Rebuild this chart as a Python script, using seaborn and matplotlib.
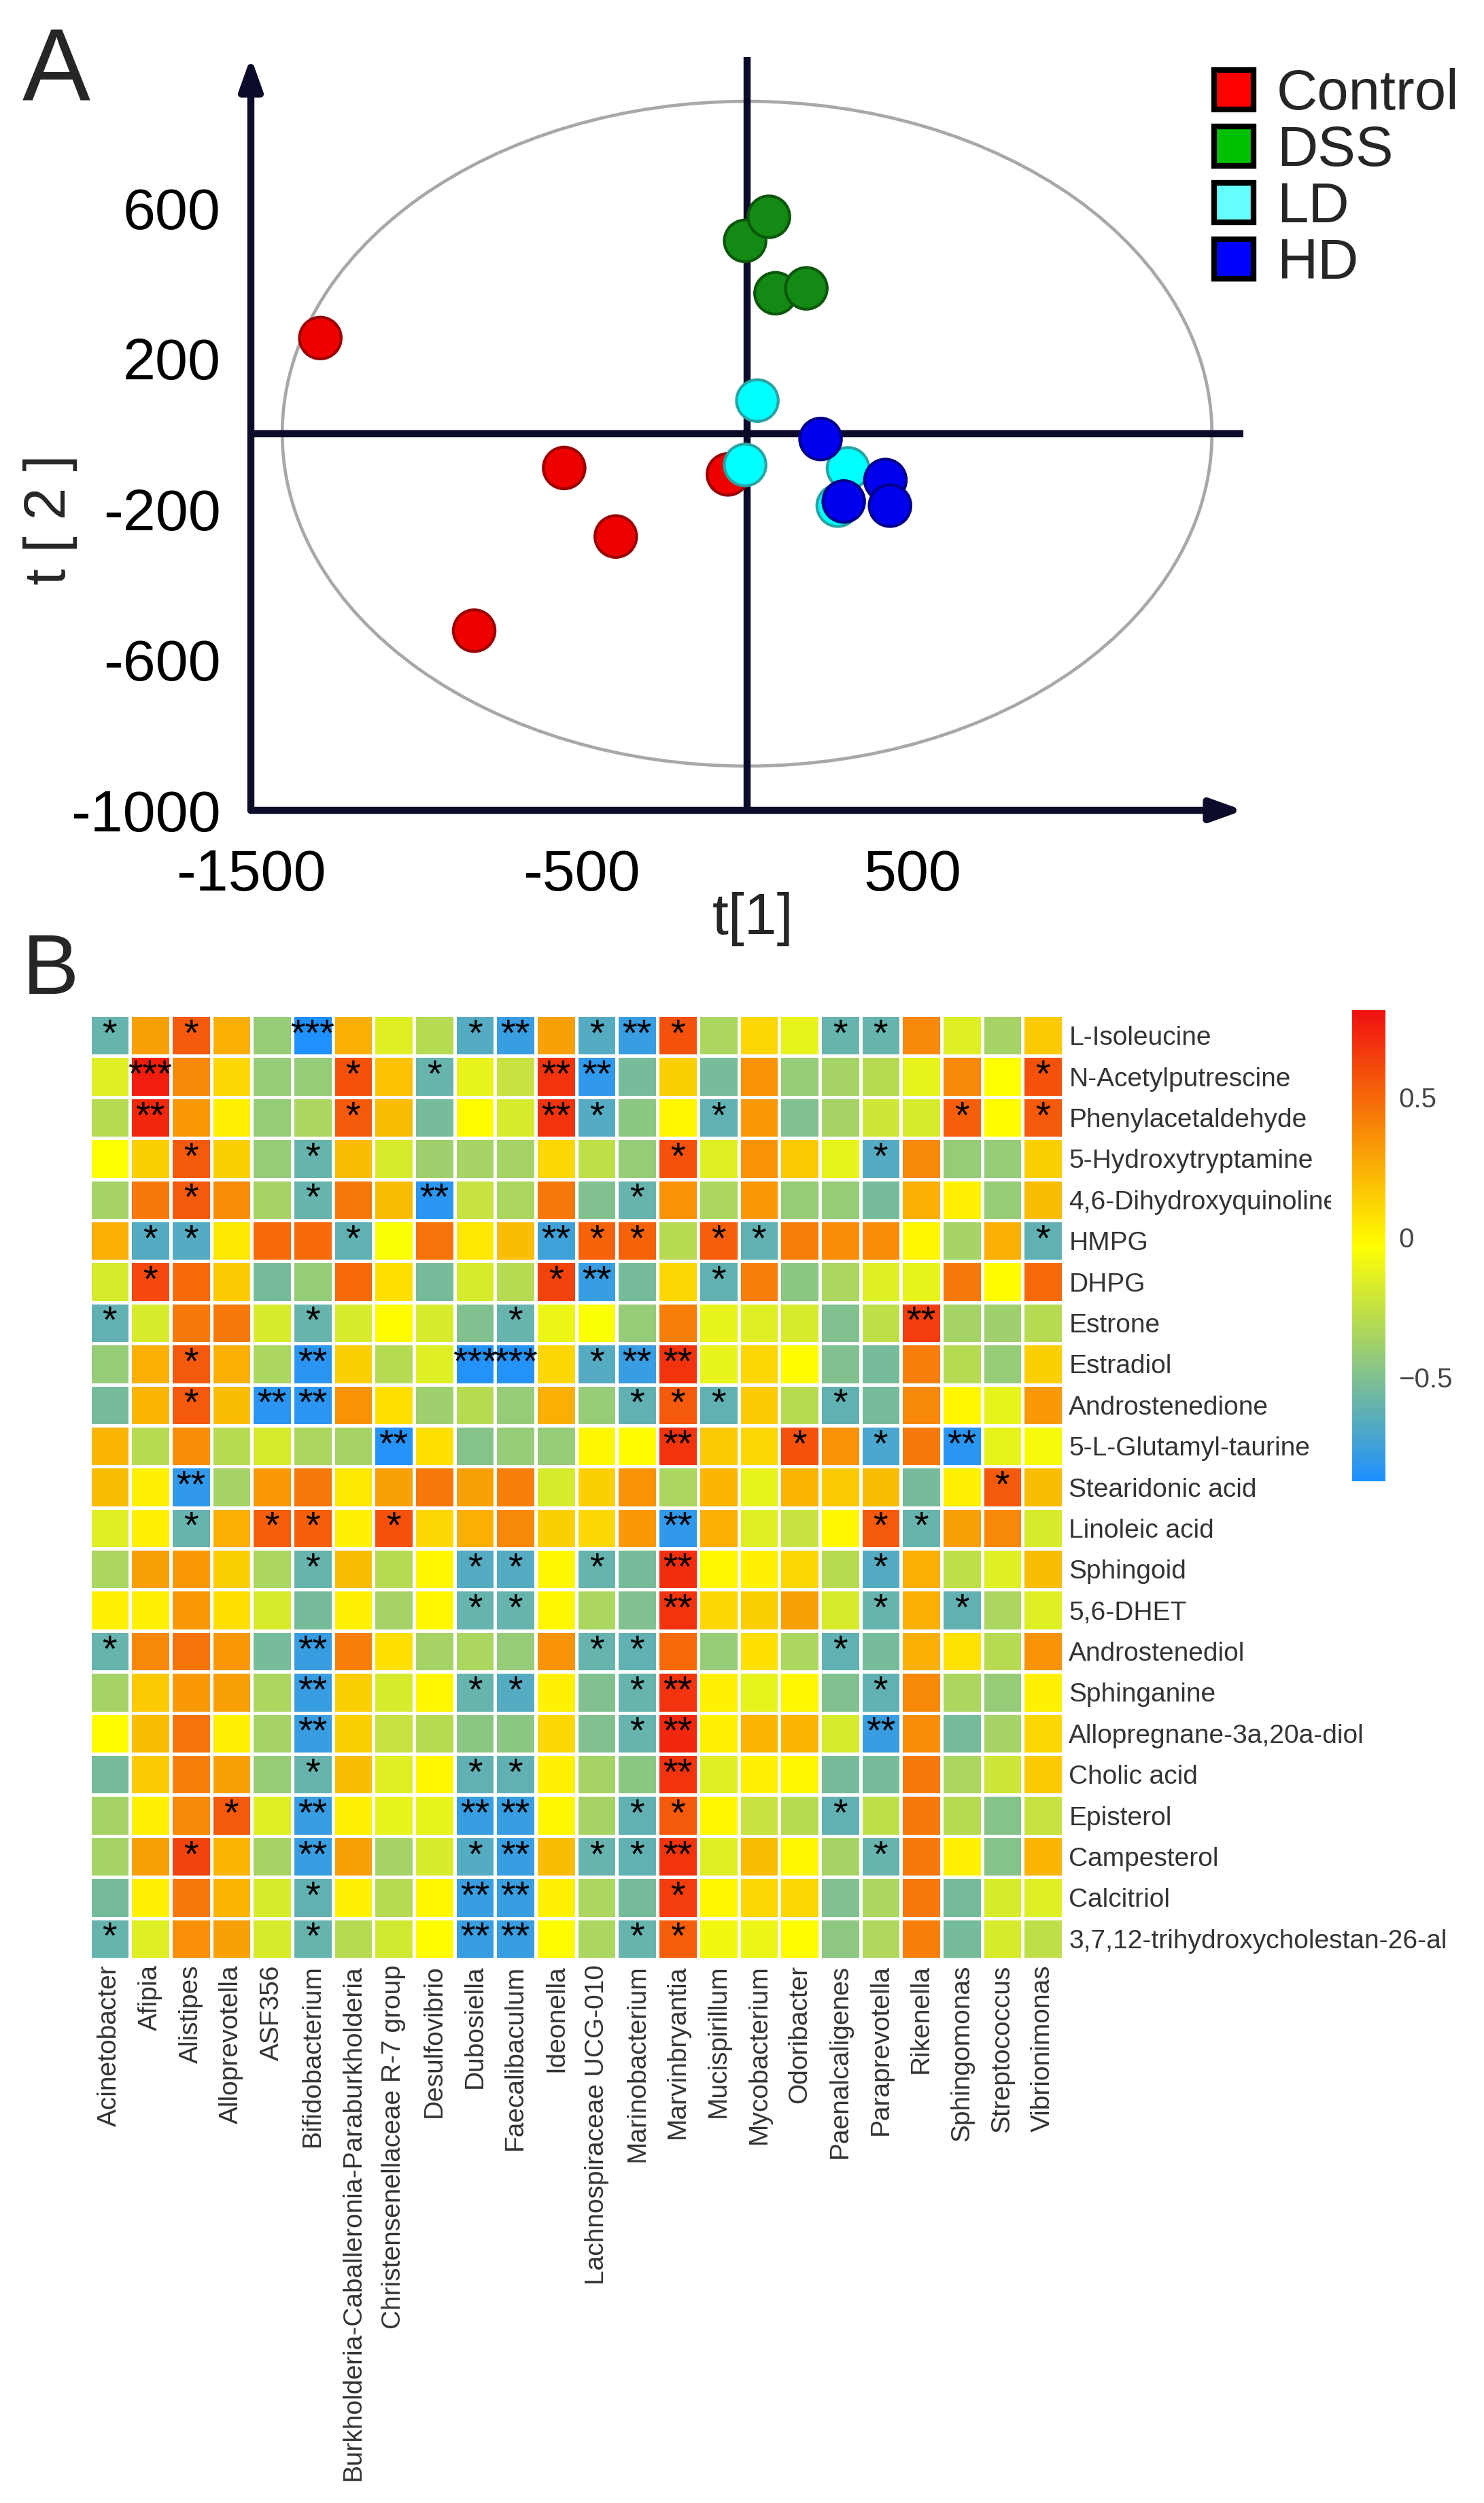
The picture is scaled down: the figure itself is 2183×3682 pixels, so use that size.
import numpy as np
import pandas as pd
import matplotlib
matplotlib.use("Agg")
import matplotlib.pyplot as plt
import seaborn as sns
from matplotlib.patches import Ellipse, Rectangle
from matplotlib.lines import Line2D
from matplotlib.colors import LinearSegmentedColormap

# ---------------- panel A : PCA scores ----------------
groups = ["Control", "DSS", "LD", "HD"]
control_t1 = [-1290, -553, -397, -825, -58]
control_t2 = [254, -91, -273, -523, -108]
dss_t1 = [-6, 66, 86, 179]
dss_t2 = [512, 576, 373, 386]
ld_t1 = [31, -6, 305, 274]
ld_t2 = [88, -83, -92, -191]
hd_t1 = [222, 292, 418, 432]
hd_t2 = [-14, -180, -123, -191]

fill_colors = ["#ee0000", "#138a13", "#00ffff", "#0000ee"]
edge_colors = ["#9a0000", "#0b560b", "#2aa3a3", "#00008a"]
legend_colors = ["#ff0000", "#00c000", "#66ffff", "#0000ff"]

# ---------------- panel B : correlation heatmap ----------------
metabolites = ["L-Isoleucine", "N-Acetylputrescine", "Phenylacetaldehyde",
               "5-Hydroxytryptamine", "4,6-Dihydroxyquinoline", "HMPG", "DHPG",
               "Estrone", "Estradiol", "Androstenedione", "5-L-Glutamyl-taurine",
               "Stearidonic acid", "Linoleic acid", "Sphingoid", "5,6-DHET",
               "Androstenediol", "Sphinganine", "Allopregnane-3a,20a-diol",
               "Cholic acid", "Episterol", "Campesterol", "Calcitriol",
               "3,7,12-trihydroxycholestan-26-al"]
genera = ["Acinetobacter", "Afipia", "Alistipes", "Alloprevotella", "ASF356",
          "Bifidobacterium", "Burkholderia-Caballeronia-Paraburkholderia",
          "Christensenellaceae R-7 group", "Desulfovibrio", "Dubosiella",
          "Faecalibaculum", "Ideonella", "Lachnospiraceae UCG-010",
          "Marinobacterium", "Marvinbryantia", "Mucispirillum", "Mycobacterium",
          "Odoribacter", "Paenalcaligenes", "Paraprevotella", "Rikenella",
          "Sphingomonas", "Streptococcus", "Vibrionimonas"]

corr_values = [
    [-0.6, 0.3, 0.55, 0.25, -0.42, -0.87, 0.25, -0.15, -0.3, -0.66, -0.77, 0.3, -0.66, -0.77, 0.58, -0.34, 0.11, -0.12, -0.6, -0.6, 0.39, -0.15, -0.36, 0.16],
    [-0.15, 0.76, 0.39, 0.11, -0.42, -0.42, 0.58, 0.18, -0.6, -0.12, -0.24, 0.68, -0.8, -0.54, 0.14, -0.54, 0.35, -0.42, -0.36, -0.3, -0.12, 0.39, -0.03, 0.58],
    [-0.3, 0.72, 0.33, 0.02, -0.42, -0.34, 0.55, 0.2, -0.54, -0.02, -0.18, 0.68, -0.66, -0.46, 0.0, -0.62, 0.33, -0.5, -0.36, -0.22, -0.18, 0.53, -0.02, 0.55],
    [-0.03, 0.14, 0.55, 0.14, -0.42, -0.6, 0.2, -0.18, -0.39, -0.36, -0.36, 0.11, -0.27, -0.42, 0.58, -0.15, 0.35, 0.16, -0.12, -0.66, 0.39, -0.42, -0.42, 0.14],
    [-0.36, 0.44, 0.55, 0.37, -0.36, -0.6, 0.44, 0.2, -0.82, -0.24, -0.34, 0.44, -0.5, -0.6, 0.35, -0.34, 0.33, -0.42, -0.42, -0.54, 0.25, 0.02, -0.42, 0.2],
    [0.25, -0.66, -0.66, 0.05, 0.49, 0.49, -0.62, -0.04, 0.46, 0.05, 0.2, -0.74, 0.52, 0.52, -0.3, 0.53, -0.62, 0.42, 0.37, 0.37, 0.0, -0.36, 0.25, -0.62],
    [-0.18, 0.61, 0.49, 0.16, -0.54, -0.42, 0.49, 0.08, -0.54, -0.18, -0.3, 0.63, -0.77, -0.54, 0.11, -0.62, 0.42, -0.46, -0.34, -0.15, -0.12, 0.44, -0.02, 0.49],
    [-0.62, -0.18, 0.44, 0.44, -0.18, -0.6, -0.18, -0.02, -0.18, -0.5, -0.6, -0.1, -0.04, -0.42, 0.42, -0.12, -0.15, -0.18, -0.5, -0.27, 0.65, -0.36, -0.39, -0.3],
    [-0.42, 0.25, 0.55, 0.25, -0.34, -0.82, 0.14, -0.3, -0.15, -0.85, -0.85, 0.11, -0.66, -0.77, 0.68, -0.12, 0.11, -0.02, -0.5, -0.54, 0.42, -0.3, -0.42, 0.14],
    [-0.54, 0.23, 0.55, 0.2, -0.82, -0.82, 0.35, 0.08, -0.39, -0.3, -0.42, 0.25, -0.42, -0.62, 0.55, -0.62, 0.16, -0.3, -0.62, -0.54, 0.39, 0.0, -0.12, 0.33],
    [0.23, -0.3, 0.37, -0.3, -0.18, -0.34, -0.36, -0.84, 0.08, -0.48, -0.42, -0.42, 0.0, -0.02, 0.68, 0.16, 0.11, 0.58, 0.35, -0.7, 0.44, -0.82, -0.12, -0.06],
    [0.2, 0.02, -0.8, -0.36, 0.33, 0.44, 0.05, 0.3, 0.44, 0.3, 0.42, -0.18, 0.14, 0.35, -0.34, 0.23, -0.12, 0.23, 0.16, 0.2, -0.54, 0.02, 0.55, 0.2],
    [-0.15, 0.02, -0.6, 0.25, 0.53, 0.53, 0.02, 0.58, 0.11, 0.25, 0.39, 0.14, 0.11, 0.33, -0.8, 0.25, -0.15, -0.24, 0.0, 0.55, -0.6, 0.3, 0.39, -0.18],
    [-0.34, 0.3, 0.33, 0.14, -0.34, -0.6, 0.2, -0.3, 0.0, -0.66, -0.66, 0.0, -0.6, -0.54, 0.7, 0.0, 0.02, 0.11, -0.3, -0.66, 0.25, -0.27, -0.15, 0.2],
    [0.02, 0.02, 0.33, 0.08, -0.18, -0.54, 0.02, -0.36, 0.0, -0.6, -0.6, 0.0, -0.34, -0.5, 0.68, 0.11, 0.14, 0.3, -0.18, -0.6, 0.25, -0.62, -0.34, -0.15],
    [-0.6, 0.39, 0.46, 0.33, -0.54, -0.77, 0.42, 0.08, -0.36, -0.34, -0.42, 0.35, -0.6, -0.62, 0.49, -0.42, 0.08, -0.34, -0.62, -0.54, 0.25, 0.07, -0.3, 0.35],
    [-0.36, 0.16, 0.33, 0.3, -0.34, -0.77, 0.14, -0.18, 0.0, -0.6, -0.66, 0.02, -0.5, -0.6, 0.68, 0.02, -0.12, 0.0, -0.5, -0.62, 0.39, -0.34, -0.42, 0.02],
    [-0.02, 0.2, 0.46, 0.02, -0.36, -0.77, 0.14, -0.24, -0.3, -0.46, -0.46, 0.11, -0.5, -0.6, 0.72, 0.02, 0.23, 0.23, -0.18, -0.77, 0.37, -0.54, -0.36, 0.11],
    [-0.54, 0.16, 0.42, 0.3, -0.42, -0.6, 0.2, -0.15, 0.0, -0.62, -0.62, 0.02, -0.36, -0.46, 0.68, -0.15, 0.02, 0.0, -0.54, -0.54, 0.44, -0.34, -0.22, 0.16],
    [-0.36, 0.02, 0.39, 0.55, -0.15, -0.77, 0.02, -0.12, -0.12, -0.77, -0.77, 0.0, -0.36, -0.62, 0.55, 0.0, -0.24, -0.3, -0.62, -0.27, 0.44, -0.3, -0.48, -0.24],
    [-0.36, 0.3, 0.63, 0.23, -0.36, -0.77, 0.3, -0.36, -0.18, -0.66, -0.77, 0.2, -0.6, -0.62, 0.68, -0.15, 0.2, 0.0, -0.36, -0.6, 0.44, 0.02, -0.48, 0.23],
    [-0.54, 0.02, 0.44, 0.23, -0.18, -0.62, 0.02, -0.3, 0.0, -0.77, -0.77, 0.02, -0.34, -0.54, 0.65, 0.0, 0.11, 0.11, -0.5, -0.34, 0.44, -0.54, -0.18, -0.15],
    [-0.6, -0.15, 0.36, 0.3, -0.18, -0.6, -0.3, -0.2, -0.02, -0.77, -0.77, -0.02, -0.34, -0.6, 0.53, -0.08, -0.1, -0.02, -0.45, -0.33, 0.42, -0.54, -0.18, -0.27],
]

# significance marks, one string per row, "." = none, cells separated by spaces
star_rows = [
    "* . * . . *** . . . * ** . * ** * . . . * * . . . .",
    ". *** . . . . * . * . . ** ** . . . . . . . . . . *",
    ". ** . . . . * . . . . ** * . . * . . . . . * . *",
    ". . * . . * . . . . . . . . * . . . . * . . . .",
    ". . * . . * . . ** . . . . * . . . . . . . . . .",
    ". * * . . . * . . . . ** * * . * * . . . . . . *",
    ". * . . . . . . . . . * ** . . * . . . . . . . .",
    "* . . . . * . . . . * . . . . . . . . . ** . . .",
    ". . * . . ** . . . *** *** . * ** ** . . . . . . . . .",
    ". . * . ** ** . . . . . . . * * * . . * . . . . .",
    ". . . . . . . ** . . . . . . ** . . * . * . ** . .",
    ". . ** . . . . . . . . . . . . . . . . . . . * .",
    ". . * . * * . * . . . . . . ** . . . . * * . . .",
    ". . . . . * . . . * * . * . ** . . . . * . . . .",
    ". . . . . . . . . * * . . . ** . . . . * . * . .",
    "* . . . . ** . . . . . . * * . . . . * . . . . .",
    ". . . . . ** . . . * * . . * ** . . . . * . . . .",
    ". . . . . ** . . . . . . . * ** . . . . ** . . . .",
    ". . . . . * . . . * * . . . ** . . . . . . . . .",
    ". . . * . ** . . . ** ** . . * * . . . * . . . . .",
    ". . * . . ** . . . * ** . * * ** . . . . * . . . .",
    ". . . . . * . . . ** ** . . . * . . . . . . . . .",
    "* . . . . * . . . ** ** . . * * . . . . . . . . .",
]

sns.set_style("white")
plt.rcParams["font.family"] = ["Liberation Sans", "DejaVu Sans"]

W, H = 2183, 3682
fig = plt.figure(figsize=(W / 100, H / 100), dpi=100)
navy = "#0c0c2a"

# ======== panel A ========
axA = fig.add_axes([369 / W, 1 - 1192 / H, 1460 / W, 1108 / H])
pca = pd.DataFrame({
    "t1": control_t1 + dss_t1 + ld_t1 + hd_t1,
    "t2": control_t2 + dss_t2 + ld_t2 + hd_t2,
    "group": (["Control"] * len(control_t1) + ["DSS"] * len(dss_t1)
              + ["LD"] * len(ld_t1) + ["HD"] * len(hd_t1)),
})
axA.add_patch(Ellipse((0, 0), 2810, 1765, fill=False, ec="#a8a8a8", lw=3.4, zorder=1))
axA.axhline(0, color=navy, lw=7.5, zorder=2)
axA.axvline(0, color=navy, lw=7.5, zorder=2)
sns.scatterplot(data=pca, x="t1", y="t2", hue="group", hue_order=groups,
                palette=dict(zip(groups, fill_colors)), s=1950, linewidth=3,
                legend=False, ax=axA, zorder=5)
edge_map = dict(zip(groups, edge_colors))
axA.collections[-1].set_edgecolors([edge_map[g] for g in pca["group"]])

axA.set_xlim(-1500, 1500)
axA.set_ylim(-1000, 1000)
for s in axA.spines.values():
    s.set_visible(False)
arrow = dict(arrowstyle="-|>,head_length=1.4,head_width=0.5", lw=7.5, color=navy,
             mutation_scale=20, shrinkA=0, shrinkB=0)
axA.annotate("", xy=(1500, -1000), xytext=(-1500, -1000), arrowprops=arrow,
             annotation_clip=False)
axA.annotate("", xy=(-1500, 1000), xytext=(-1500, -1000), arrowprops=arrow,
             annotation_clip=False)

axA.set_xticks([-1500, -500, 500])
axA.set_xticklabels(["-1500", "-500", "500"])
axA.set_yticks([-1000, -600, -200, 200, 600])
axA.set_yticklabels(["-1000", "-600", "-200", "200", "600"])
axA.tick_params(axis="both", direction="out", length=10, width=5, color=navy,
                labelsize=62, labelcolor="black")
axA.tick_params(axis="x", pad=30)
axA.tick_params(axis="y", pad=22)
axA.set_xlabel("t[1]", fontsize=62)
axA.set_ylabel("t [ 2 ]", fontsize=62)
axA.xaxis.set_label_coords(0.506, -0.108)
axA.yaxis.set_label_coords(-0.175, 0.386)

handles = [Line2D([], [], marker="s", linestyle="", markersize=42,
                  markerfacecolor=c, markeredgecolor="black", markeredgewidth=6)
           for c in legend_colors]
fig.legend(handles, groups, loc="upper left", bbox_to_anchor=(1782 / W, 1 - 100 / H),
           frameon=False, fontsize=60, handlelength=0.8, handletextpad=0.35,
           labelspacing=0.06, borderpad=0, borderaxespad=0)

fig.text(33 / W, 1 - 147 / H, "A", fontsize=108, va="baseline")

# ======== panel B ========
axB = fig.add_axes([131.5 / W, 1 - 2882 / H, 1432.5 / W, 1389 / H])
cax = fig.add_axes([1989 / W, 1 - 2179 / H, 49 / W, 693 / H])
corr = pd.DataFrame(corr_values, index=metabolites, columns=genera)
stars = np.array([[c.replace(".", "") for c in r.split()] for r in star_rows])
cmap = LinearSegmentedColormap.from_list("byr", ["#1e90ff", "#ffff00", "#f01010"])
sns.heatmap(corr, ax=axB, cmap=cmap, vmin=-0.87, vmax=0.81,
            linewidths=2.2, linecolor="white",
            annot=stars, fmt="", annot_kws={"fontsize": 40, "color": "black"},
            cbar_ax=cax, cbar_kws={"ticks": [-0.5, 0, 0.5]})

axB.yaxis.tick_right()
axB.set_yticks(np.arange(len(metabolites)) + 0.5)
axB.set_yticklabels(metabolites, rotation=0, ha="left", fontsize=28, color="#333333")
axB.set_xticks(np.arange(len(genera)) + 0.5)
axB.set_xticklabels(genera, rotation=90, fontsize=28, color="#333333")
axB.tick_params(axis="both", length=0, pad=6)
axB.set_xlabel("")
axB.set_ylabel("")

# labels beside the colour key are cut where the key's viewport starts
clip = Rectangle((0, 0), 1958 / W, 1, transform=fig.transFigure)
for lab in axB.get_yticklabels()[:12]:
    lab.set_clip_path(clip)
    lab.set_clip_on(True)

cbar = axB.collections[0].colorbar
cbar.outline.set_visible(False)
cbar.set_ticks([-0.5, 0, 0.5])
cbar.set_ticklabels(["\u22120.5", "0", "0.5"])
cbar.ax.tick_params(length=0, labelsize=29, labelcolor="#444444", pad=14)

fig.text(33 / W, 1 - 1462 / H, "B", fontsize=90, va="baseline")

fig.savefig("out.png", dpi=100, facecolor="white")
